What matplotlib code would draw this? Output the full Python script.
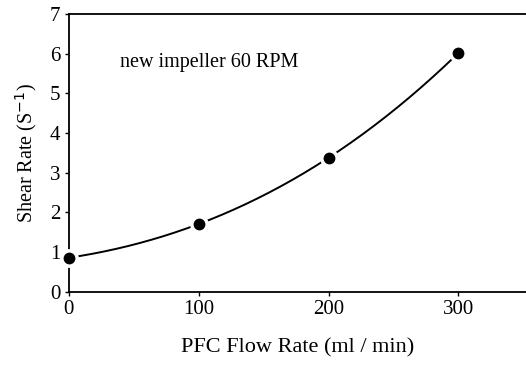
import numpy as np
import matplotlib
matplotlib.use("Agg")
import matplotlib.pyplot as plt

# data
flow = [0, 100, 200, 300]
shear = [0.86, 1.71, 3.38, 6.02]
xticks = [0, 100, 200, 300]
yticks = [0, 1, 2, 3, 4, 5, 6, 7]

plt.rcParams['font.family'] = ['Liberation Serif', 'DejaVu Serif']

fig = plt.figure(figsize=(5.26, 3.69), dpi=100)
ax = fig.add_axes([0.131, 0.209, 0.869, 0.753])

# smooth curve through the measured points
coef = np.polyfit(flow, shear, 3)
xs = np.linspace(flow[0], flow[-1], 200)
ax.plot(xs, np.polyval(coef, xs), color='black', lw=1.4, zorder=2)
ax.plot(flow, shear, 'o', color='black', ms=8.5, mec='white', mew=5, zorder=3, clip_on=False)
ax.plot(flow, shear, 'o', color='black', ms=8.5, mec='black', mew=0, zorder=4, clip_on=False)

ax.text(39, 5.77, 'new impeller 60 RPM', fontsize=14.5, va='center', ha='left')

ax.set_xlim(0, 352)
ax.set_ylim(0, 7)
ax.set_xticks(xticks)
ax.set_yticks(yticks)
ax.tick_params(direction='out', length=3, width=1, labelsize=15, pad=3)
ax.spines['right'].set_visible(False)
for s in ['left', 'top', 'bottom']:
    ax.spines[s].set_linewidth(1.3)

ax.set_xlabel('PFC Flow Rate (ml / min)', fontsize=16, labelpad=14)
ax.set_ylabel('Shear Rate (S$^{-1}$)', fontsize=14.5, labelpad=8)

fig.savefig('out.png', dpi=100)
